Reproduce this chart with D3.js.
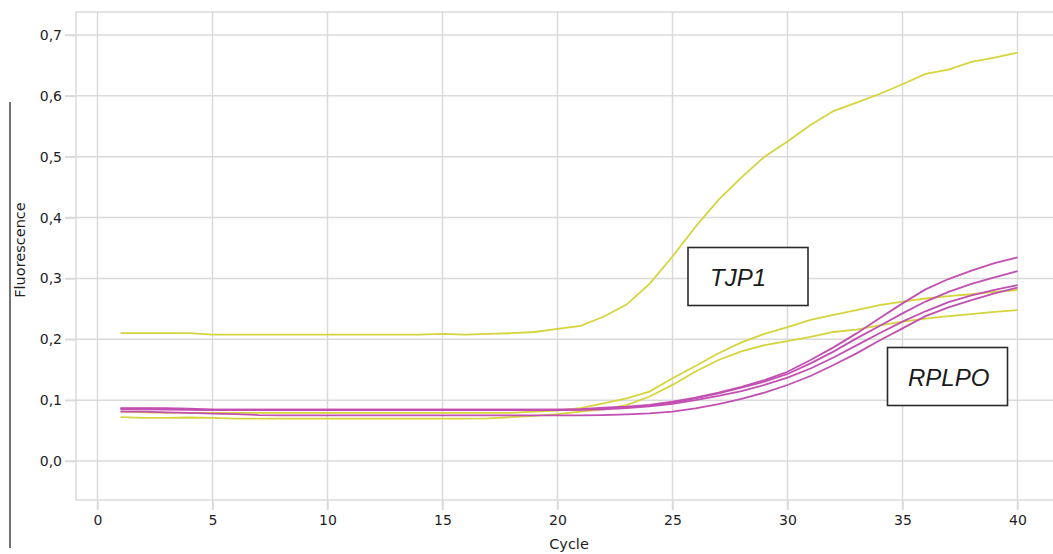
<!DOCTYPE html>
<html>
<head>
<meta charset="utf-8">
<script src="https://cdn.jsdelivr.net/npm/d3@7"></script>
<style>
  html, body { margin: 0; padding: 0; background: #fff; }
  svg { display: block; }
</style>
</head>
<body>
<svg id="chart" width="1053" height="554"></svg>
<script>
// ---- Data ----
const cycles = d3.range(1, 41);
const xTicks = [0, 5, 10, 15, 20, 25, 30, 35, 40];
const yTicks = [0, 0.1, 0.2, 0.3, 0.4, 0.5, 0.6, 0.7];

// TJP1 (yellow)
const tjp1_a = [0.210,0.210,0.210,0.210,0.2075,0.2075,0.2075,0.2075,0.2075,0.2075,
                0.2075,0.2075,0.2075,0.2075,0.209,0.2075,0.209,0.210,0.212,0.217,
                0.222,0.237,0.257,0.291,0.336,0.385,0.429,0.466,0.500,0.525,
                0.552,0.575,0.589,0.603,0.619,0.636,0.643,0.656,0.663,0.671];
const tjp1_b = [0.081,0.080,0.079,0.079,0.079,0.079,0.079,0.079,0.079,0.079,
                0.079,0.079,0.079,0.079,0.079,0.079,0.079,0.079,0.081,0.083,
                0.087,0.0945,0.103,0.114,0.136,0.156,0.177,0.195,0.209,0.220,
                0.232,0.240,0.248,0.256,0.262,0.267,0.271,0.274,0.278,0.281];
const tjp1_c = [0.072,0.071,0.071,0.0715,0.071,0.0695,0.0695,0.0695,0.0695,0.0695,
                0.0695,0.0695,0.0695,0.0695,0.0695,0.0695,0.070,0.072,0.074,0.077,
                0.081,0.085,0.092,0.106,0.125,0.147,0.166,0.180,0.1905,0.197,
                0.204,0.212,0.216,0.223,0.229,0.234,0.238,0.2415,0.245,0.248];

// RPLPO (magenta)
const rplpo_a = [0.087,0.087,0.087,0.086,0.0845,0.0845,0.0845,0.0845,0.0845,0.0845,
                 0.0845,0.0845,0.0845,0.0845,0.0845,0.0845,0.0845,0.0845,0.0845,0.0845,
                 0.085,0.0877,0.0894,0.092,0.0975,0.104,0.1123,0.122,0.133,0.1467,
                 0.166,0.1867,0.2097,0.2344,0.259,0.282,0.299,0.3127,0.325,0.3346];
const rplpo_b = [0.086,0.086,0.0855,0.085,0.0842,0.0842,0.0842,0.0842,0.0842,0.0842,
                 0.0842,0.0842,0.0842,0.0842,0.0842,0.0842,0.0842,0.0842,0.0842,0.0842,
                 0.0845,0.086,0.0882,0.0915,0.0958,0.103,0.1112,0.1205,0.1303,0.143,
                 0.1604,0.1797,0.2015,0.2218,0.2426,0.262,0.278,0.291,0.3018,0.312];
const rplpo_c = [0.085,0.085,0.0845,0.084,0.0838,0.0838,0.0838,0.0838,0.0838,0.0838,
                 0.0838,0.0838,0.0838,0.0838,0.0838,0.0838,0.0838,0.0838,0.0838,0.0838,
                 0.084,0.085,0.087,0.090,0.094,0.100,0.107,0.115,0.125,0.137,
                 0.152,0.170,0.190,0.210,0.229,0.246,0.261,0.272,0.281,0.289];
const rplpo_d = [0.081,0.081,0.080,0.079,0.078,0.077,0.0755,0.075,0.075,0.075,
                 0.075,0.075,0.075,0.075,0.075,0.075,0.075,0.075,0.075,0.075,
                 0.075,0.0755,0.0767,0.0783,0.0811,0.0866,0.0936,0.102,0.1123,0.1249,
                 0.1396,0.1577,0.1769,0.198,0.218,0.238,0.2525,0.2645,0.2755,0.2848];

const yellowSeries = [tjp1_a, tjp1_b, tjp1_c];
const magentaSeries = [rplpo_a, rplpo_b, rplpo_c, rplpo_d];

// ---- Layout ----
const W = 1053, H = 554;
const frame = { left: 76, top: 12, right: 1060, bottom: 500 };
const gridColor = "#dadada";
const yellow = "#d5d43c";
const magenta = "#c34fb3";

const svg = d3.select("#chart");

const x = d3.scaleLinear().domain([0, 40]).range([97.5, 1017.5]);
const y = d3.scaleLinear().domain([0, 0.7]).range([461, 35]);

// frame
svg.append("rect")
  .attr("x", frame.left).attr("y", frame.top)
  .attr("width", frame.right - frame.left).attr("height", frame.bottom - frame.top)
  .attr("fill", "none").attr("stroke", gridColor).attr("stroke-width", 1.5);

// horizontal grid
svg.append("g")
  .selectAll("line").data(yTicks).join("line")
  .attr("x1", frame.left - 11).attr("x2", W)
  .attr("y1", d => y(d)).attr("y2", d => y(d))
  .attr("stroke", gridColor).attr("stroke-width", 1.5);

// vertical grid
svg.append("g")
  .selectAll("line").data(xTicks).join("line")
  .attr("x1", d => x(d)).attr("x2", d => x(d))
  .attr("y1", frame.top).attr("y2", frame.bottom + 10)
  .attr("stroke", gridColor).attr("stroke-width", 1.5);

// axes (labels only; ticks drawn via grid)
const yAxis = d3.axisLeft(y).tickValues(yTicks)
  .tickFormat(d => d.toFixed(1).replace(".", ","))
  .tickSize(11).tickPadding(3);
const gy = svg.append("g").attr("transform", `translate(${frame.left},0)`).call(yAxis);
gy.select(".domain").remove();
gy.selectAll(".tick line").attr("stroke", gridColor).attr("stroke-width", 1.5);
gy.selectAll("text").attr("font-family", "DejaVu Sans, Verdana, sans-serif")
  .attr("font-size", 14).attr("fill", "#1e1e1e");

const xAxis = d3.axisBottom(x).tickValues(xTicks).tickSize(10).tickPadding(5);
const gx = svg.append("g").attr("transform", `translate(0,${frame.bottom})`).call(xAxis);
gx.select(".domain").remove();
gx.selectAll(".tick line").attr("stroke", gridColor).attr("stroke-width", 1.5);
gx.selectAll("text").attr("font-family", "DejaVu Sans, Verdana, sans-serif")
  .attr("font-size", 14).attr("fill", "#1e1e1e");

// axis titles
svg.append("text")
  .attr("transform", "translate(25,250) rotate(-90)")
  .attr("text-anchor", "middle")
  .attr("font-family", "DejaVu Sans, Verdana, sans-serif")
  .attr("font-size", 14.5).attr("fill", "#1e1e1e")
  .text("Fluorescence");

svg.append("text")
  .attr("x", 569).attr("y", 549)
  .attr("text-anchor", "middle")
  .attr("font-family", "DejaVu Sans, Verdana, sans-serif")
  .attr("font-size", 14.5).attr("fill", "#1e1e1e")
  .text("Cycle");

// left dark line
svg.append("line")
  .attr("x1", 10).attr("x2", 10).attr("y1", 102).attr("y2", 548)
  .attr("stroke", "#444").attr("stroke-width", 1.5);

// data lines
const line = d3.line().x((d, i) => x(cycles[i])).y(d => y(d));
svg.append("g").selectAll("path").data(yellowSeries).join("path")
  .attr("d", line).attr("fill", "none")
  .attr("stroke", yellow).attr("stroke-width", 1.8);
svg.append("g").selectAll("path").data(magentaSeries).join("path")
  .attr("d", line).attr("fill", "none")
  .attr("stroke", magenta).attr("stroke-width", 1.8);

// label boxes
function labelBox(bx, by, bw, bh, tx, ty, txt) {
  svg.append("rect").attr("x", bx).attr("y", by).attr("width", bw).attr("height", bh)
    .attr("fill", "#fff").attr("stroke", "#2a2a2a").attr("stroke-width", 1.6);
  svg.append("text").attr("x", tx).attr("y", ty)
    .attr("font-family", "Liberation Sans, Arial, sans-serif")
    .attr("font-style", "italic").attr("font-size", 24).attr("fill", "#1a1a1a")
    .text(txt);
}
labelBox(688, 247.5, 120, 58, 710, 286, "TJP1");
labelBox(887.5, 347.5, 120, 58, 908, 386, "RPLPO");
</script>
</body>
</html>
